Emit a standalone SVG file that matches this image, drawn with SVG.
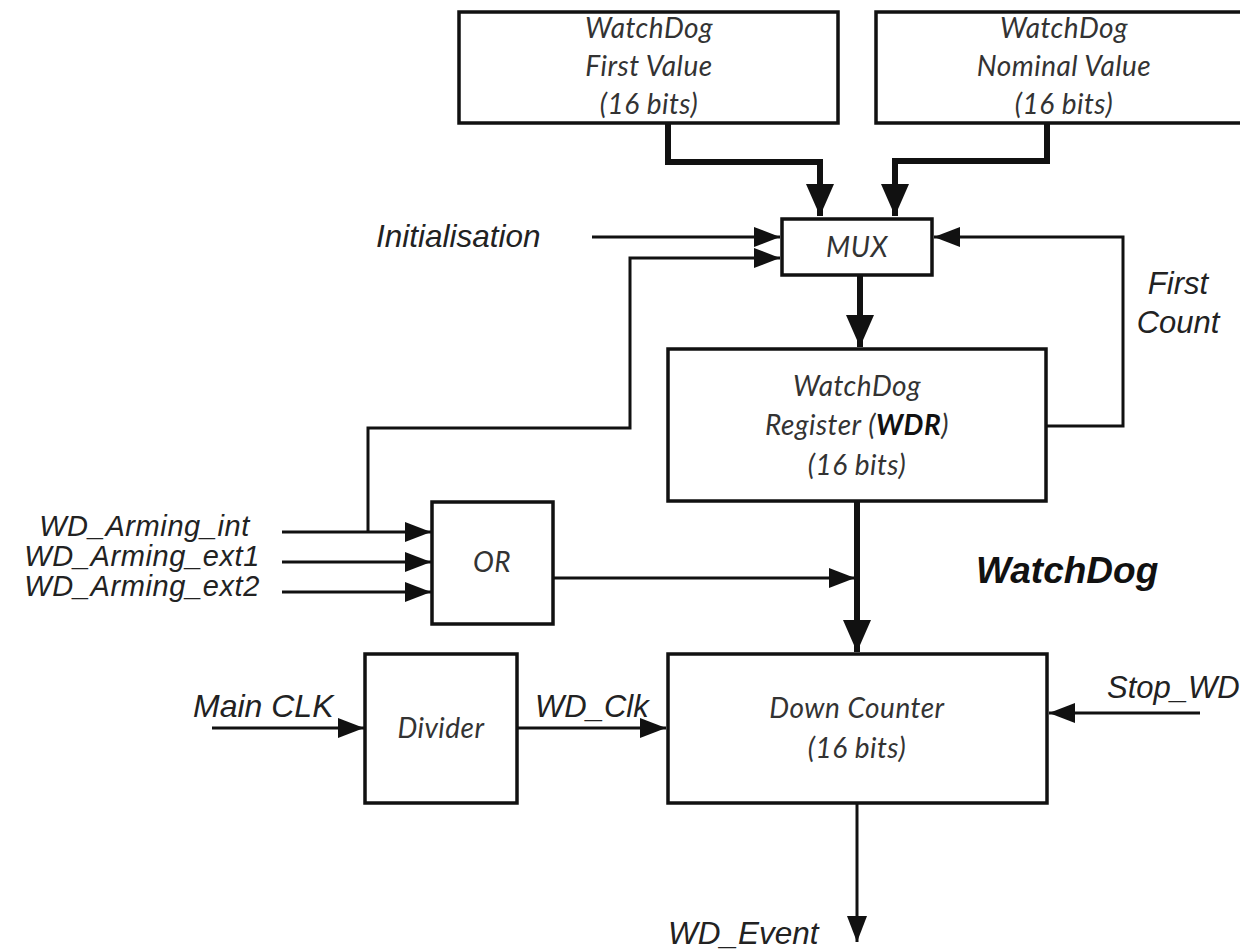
<svg xmlns="http://www.w3.org/2000/svg" width="1240" height="952" viewBox="0 0 1240 952">
<style>
.box{fill:#fff;stroke:#111;stroke-width:3.5}
.bt{font-family:Lato,"Open Sans",sans-serif;font-style:italic;font-size:28px;letter-spacing:0.5px;fill:#333;text-anchor:middle}
.lb{font-family:"Liberation Sans",Arial,sans-serif;font-style:italic;font-size:31px;fill:#222}
.arm{font-size:29px;text-anchor:end;letter-spacing:0.6px}
.thin{fill:none;stroke:#111;stroke-width:3}
.thick{fill:none;stroke:#111;stroke-width:6}
</style>
<defs>
<marker id="ah" markerUnits="userSpaceOnUse" markerWidth="26" markerHeight="20" refX="26" refY="10" orient="auto"><path d="M0,0 L26,10 L0,20 Z" fill="#111"/></marker>
<marker id="ahb" markerUnits="userSpaceOnUse" markerWidth="32" markerHeight="28" refX="32" refY="14" orient="auto"><path d="M0,0 L32,14 L0,28 Z" fill="#111"/></marker>
</defs>
<rect width="1240" height="952" fill="#fff"/>
<g id="connectors">
<path class="thick" d="M668,123 V162 H820 V216" marker-end="url(#ahb)"/>
<path class="thick" d="M1047,123 V161 H895 V216" marker-end="url(#ahb)"/>
<path class="thin" d="M592,237 H780" marker-end="url(#ah)"/>
<path class="thin" d="M368,532 V428 H630 V258 H780" marker-end="url(#ah)"/>
<path class="thin" d="M1046,426 H1123 V237 H934" marker-end="url(#ah)"/>
<path class="thick" d="M860,276 V347" marker-end="url(#ahb)"/>
<path class="thick" d="M857,502 V652" marker-end="url(#ahb)"/>
<path class="thin" d="M553,578 H855" marker-end="url(#ah)"/>
<path class="thin" d="M282,532 H431" marker-end="url(#ah)"/>
<path class="thin" d="M282,562 H431" marker-end="url(#ah)"/>
<path class="thin" d="M282,592 H431" marker-end="url(#ah)"/>
<path class="thin" d="M212,728 H364" marker-end="url(#ah)"/>
<path class="thin" d="M517,728 H666" marker-end="url(#ah)"/>
<path class="thin" d="M1200,713 H1049" marker-end="url(#ah)"/>
<path class="thin" d="M857,803 V942" marker-end="url(#ah)"/>
</g>
<g id="first-value">
<rect class="box" x="459" y="12" width="379" height="111"/>
<text class="bt" x="649" y="38">WatchDog</text>
<text class="bt" x="649" y="76">First Value</text>
<text class="bt" x="649" y="114">(16 bits)</text>
</g>
<g id="nominal-value">
<rect class="box" x="876" y="12" width="380" height="111"/>
<text class="bt" x="1064" y="38">WatchDog</text>
<text class="bt" x="1064" y="76">Nominal Value</text>
<text class="bt" x="1064" y="114">(16 bits)</text>
</g>
<g id="mux">
<rect class="box" x="782" y="219" width="150" height="56"/>
<text class="bt" x="857" y="257">MUX</text>
</g>
<g id="wdr">
<rect class="box" x="668" y="349" width="378" height="152"/>
<text class="bt" x="857" y="396">WatchDog</text>
<text class="bt" x="857" y="435">Register (<tspan font-weight="bold" fill="#111">WDR</tspan>)</text>
<text class="bt" x="857" y="475">(16 bits)</text>
</g>
<g id="or">
<rect class="box" x="432" y="502" width="121" height="122"/>
<text class="bt" x="492" y="572">OR</text>
</g>
<g id="divider">
<rect class="box" x="365" y="654" width="152" height="149"/>
<text class="bt" x="441" y="738">Divider</text>
</g>
<g id="down-counter">
<rect class="box" x="668" y="654" width="379" height="149"/>
<text class="bt" x="857" y="718">Down Counter</text>
<text class="bt" x="857" y="758">(16 bits)</text>
</g>
<g id="labels">
<text class="lb" x="376" y="247" style="font-size:31.5px">Initialisation</text>
<text class="lb" x="1178" y="294" text-anchor="middle">First</text>
<text class="lb" x="1178" y="333" text-anchor="middle">Count</text>
<text class="lb arm" x="250" y="536">WD_Arming_int</text>
<text class="lb arm" x="260" y="566">WD_Arming_ext1</text>
<text class="lb arm" x="260" y="596">WD_Arming_ext2</text>
<text class="lb" x="976" y="583" style="font-size:37px;font-weight:bold;fill:#111">WatchDog</text>
<text class="lb" x="193" y="717" style="font-size:32px">Main CLK</text>
<text class="lb" x="535" y="717">WD_Clk</text>
<text class="lb" x="1107" y="698">Stop_WD</text>
<text class="lb" x="668" y="944" style="font-size:31.5px">WD_Event</text>
</g>
</svg>
